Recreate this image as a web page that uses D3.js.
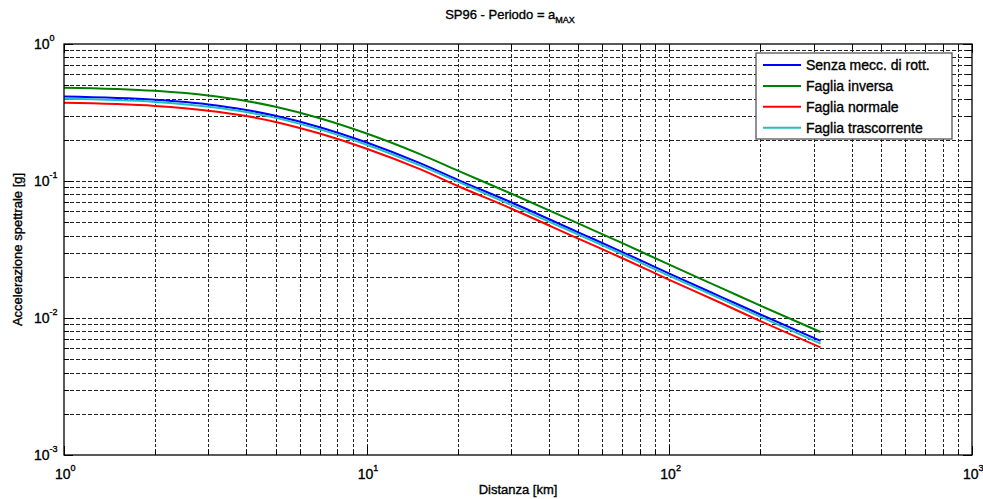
<!DOCTYPE html>
<html>
<head>
<meta charset="utf-8">
<script src="https://cdn.jsdelivr.net/npm/d3@7"></script>
<style>
  body { margin: 0; background: #fff; }
  text { font-family: "Liberation Sans", Arial, sans-serif; fill: #000; stroke: #000; stroke-width: 0.35px; }
</style>
</head>
<body>
<div id="display"></div>
<script>
// distances [km] and spectral accelerations [g]
const distanze = [1, 2, 3, 4, 5, 7, 10, 15, 20, 30, 50, 70, 100, 150, 200, 316];
const senzaMecc = [0.413, 0.391, 0.362, 0.330, 0.299, 0.247, 0.191, 0.135, 0.102, 0.070, 0.0422, 0.0303, 0.0211, 0.0141, 0.0106, 0.0068];
const fagliaInversa = [0.480, 0.455, 0.421, 0.384, 0.348, 0.287, 0.222, 0.157, 0.119, 0.081, 0.049, 0.0352, 0.0245, 0.0164, 0.0123, 0.0079];
const fagliaNormale = [0.372, 0.353, 0.326, 0.298, 0.270, 0.222, 0.172, 0.122, 0.092, 0.063, 0.038, 0.0273, 0.0190, 0.0127, 0.0095, 0.0061];
const fagliaTrascorrente = [0.398, 0.378, 0.349, 0.319, 0.289, 0.238, 0.184, 0.130, 0.099, 0.067, 0.0407, 0.0292, 0.0203, 0.0136, 0.0102, 0.0065];

const seriesNames = ["Senza mecc. di rott.", "Faglia inversa", "Faglia normale", "Faglia trascorrente"];
const seriesValues = [senzaMecc, fagliaInversa, fagliaNormale, fagliaTrascorrente];
const seriesColors = ["#0000ff", "#008000", "#ff0000", "#20c0c0"];

const xDecades = [0, 1, 2, 3];
const yDecades = [0, -1, -2, -3];

const W = 983, H = 499;
const pLeft = 64, pRight = 972, pTop = 44, pBottom = 455;

const svg = d3.select('#display')
    .append('svg')
    .attr('width', W)
    .attr('height', H);

const x = d3.scaleLog().domain([1, 1000]).range([pLeft, pRight]);
const y = d3.scaleLog().domain([0.001, 1]).range([pBottom, pTop]);

function isDecade(v) {
    return Math.abs(Math.log10(v) - Math.round(Math.log10(v))) < 1e-9;
}

// grid
const grid = svg.append('g');
x.ticks().filter(v => v > 1 && v < 1000).forEach(v => {
    const xx = Math.round(x(v)) + 0.5;
    grid.append('line')
        .attr('x1', xx).attr('x2', xx)
        .attr('y1', pTop).attr('y2', pBottom)
        .attr('stroke', '#222')
        .attr('stroke-width', 1)
        .attr('stroke-dasharray', '3,2');
});
y.ticks().filter(v => v > 0.001 && v < 1).forEach(v => {
    const yy = Math.round(y(v)) + 0.5;
    grid.append('line')
        .attr('x1', pLeft).attr('x2', pRight)
        .attr('y1', yy).attr('y2', yy)
        .attr('stroke', '#222')
        .attr('stroke-width', 1)
        .attr('stroke-dasharray', '4,2');
});

// tick marks, inward on all four sides
const ticks = svg.append('g');
x.ticks().forEach(v => {
    const len = isDecade(v) ? 9 : 5;
    const xx = Math.round(x(v)) + 0.5;
    [[pBottom, pBottom - len], [pTop, pTop + len]].forEach(([a, b]) => {
        ticks.append('line')
            .attr('x1', xx).attr('x2', xx)
            .attr('y1', a).attr('y2', b)
            .attr('stroke', '#000');
    });
});
y.ticks().forEach(v => {
    const len = isDecade(v) ? 9 : 5;
    const yy = Math.round(y(v)) + 0.5;
    [[pLeft, pLeft + len], [pRight, pRight - len]].forEach(([a, b]) => {
        ticks.append('line')
            .attr('x1', a).attr('x2', b)
            .attr('y1', yy).attr('y2', yy)
            .attr('stroke', '#000');
    });
});

// curves
const line = d3.line()
    .x(d => x(d[0]))
    .y(d => y(d[1]))
    .curve(d3.curveMonotoneX);

seriesValues.forEach((vals, i) => {
    svg.append('path')
        .datum(distanze.map((r, j) => [r, vals[j]]))
        .attr('d', line)
        .attr('fill', 'none')
        .attr('stroke', seriesColors[i])
        .attr('stroke-width', 2);
});

// axes box
svg.append('rect')
    .attr('x', pLeft).attr('y', pTop)
    .attr('width', pRight - pLeft).attr('height', pBottom - pTop)
    .attr('fill', 'none')
    .attr('stroke', '#000')
    .attr('stroke-width', 1.3);

// tick labels
xDecades.forEach(e => {
    const t = svg.append('text')
        .attr('x', x(Math.pow(10, e)) - 9)
        .attr('y', 479)
        .attr('font-size', '14px');
    t.append('tspan').text('10');
    t.append('tspan').attr('dy', -8).attr('font-size', '9px').text(e);
});
yDecades.forEach(e => {
    const t = svg.append('text')
        .attr('x', 34)
        .attr('y', y(Math.pow(10, e)) + 5)
        .attr('font-size', '14px');
    t.append('tspan').text('10');
    t.append('tspan').attr('dy', -8).attr('font-size', '9px').text(e === 0 ? '0' : e);
});

// title and axis labels
const title = svg.append('text')
    .attr('x', 510).attr('y', 19)
    .attr('text-anchor', 'middle')
    .attr('font-size', '13px');
title.append('tspan').text('SP96 - Periodo = a');
title.append('tspan').attr('dy', 4).attr('font-size', '9px').text('MAX');

svg.append('text')
    .attr('x', (pLeft + pRight) / 2).attr('y', 494)
    .attr('text-anchor', 'middle')
    .attr('font-size', '13px')
    .text('Distanza [km]');

svg.append('text')
    .attr('transform', `translate(22, ${(pTop + pBottom) / 2}) rotate(-90)`)
    .attr('text-anchor', 'middle')
    .attr('font-size', '13px')
    .text('Accelerazione spettrale [g]');

// legend
const legend = svg.append('g');
legend.append('rect')
    .attr('x', 756).attr('y', 53)
    .attr('width', 196).attr('height', 86)
    .attr('fill', '#fff')
    .attr('stroke', '#555')
    .attr('stroke-width', 1.3);
seriesNames.forEach((name, i) => {
    const yy = 65 + i * 20.9;
    legend.append('line')
        .attr('x1', 763).attr('x2', 801)
        .attr('y1', yy).attr('y2', yy)
        .attr('stroke', seriesColors[i])
        .attr('stroke-width', 2);
    legend.append('text')
        .attr('x', 806).attr('y', yy + 5)
        .attr('font-size', '14px')
        .text(name);
});
</script>
</body>
</html>
